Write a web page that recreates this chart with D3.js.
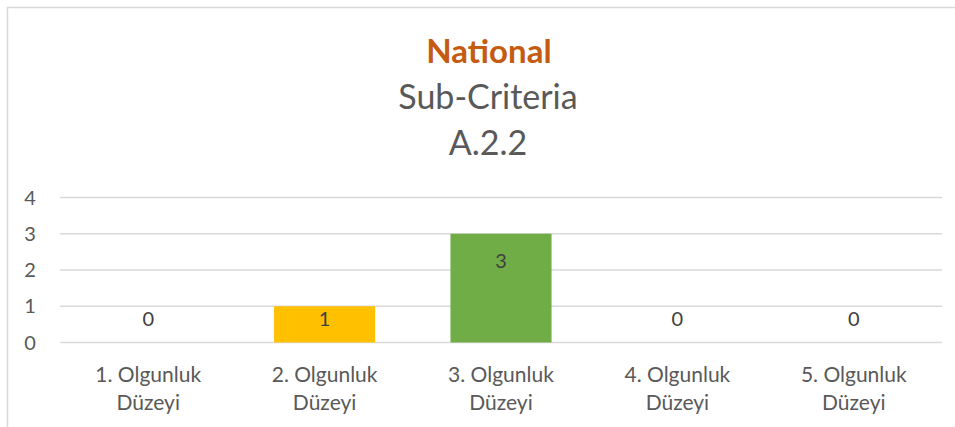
<!DOCTYPE html>
<html>
<head>
<meta charset="utf-8">
<script src="https://cdn.jsdelivr.net/npm/d3@7"></script>
<style>
  body { margin: 0; background: #fff; }
  text { font-family: Lato, "Open Sans", sans-serif; }
</style>
</head>
<body>
<div id="chart"></div>
<script>
const categories = [["1. Olgunluk", "Düzeyi"], ["2. Olgunluk", "Düzeyi"], ["3. Olgunluk", "Düzeyi"], ["4. Olgunluk", "Düzeyi"], ["5. Olgunluk", "Düzeyi"]];
const values = [0, 1, 3, 0, 0];
const barColors = ["#4472C4", "#FFC000", "#70AD47", "#5B9BD5", "#ED7D31"];
const yTicks = [0, 1, 2, 3, 4];
const titleLines = ["National", "Sub-Criteria", "A.2.2"];

window.addEventListener('load', drawChart);

function drawChart() {
  let width = 955, height = 427;
  let left = 60, right = 942, top = 197.5, bottom = 342.5;

  const svg = d3.select("#chart").append("svg")
      .attr("width", width)
      .attr("height", height);

  // chart frame (only top and left edges visible in the crop)
  svg.append("path")
      .attr("d", `M7.5,${height}V7.5H955`)
      .attr("fill", "none")
      .attr("stroke", "#d9d9d9")
      .attr("stroke-width", 1.5);

  let x = d3.scaleBand()
      .domain(d3.range(categories.length))
      .range([left, right])
      .paddingInner(0.427)
      .paddingOuter(0.2135);

  let y = d3.scaleLinear()
      .domain([0, 4])
      .range([bottom, top]);

  // gridlines
  svg.append("g")
      .selectAll("line")
      .data(yTicks)
      .join("line")
        .attr("x1", left)
        .attr("x2", right)
        .attr("y1", d => y(d))
        .attr("y2", d => y(d))
        .attr("stroke", "#d9d9d9")
        .attr("stroke-width", 1.3);

  // y tick labels
  svg.append("g")
      .selectAll("text")
      .data(yTicks)
      .join("text")
        .attr("x", 30)
        .attr("y", d => y(d))
        .attr("dy", "0.35em")
        .attr("text-anchor", "middle")
        .attr("font-size", 20)
        .attr("fill", "#595959")
        .text(d => d);

  // bars
  svg.append("g")
      .selectAll("rect")
      .data(values)
      .join("rect")
        .attr("x", (d, i) => x(i))
        .attr("y", d => y(d))
        .attr("width", x.bandwidth())
        .attr("height", d => y(0) - y(d))
        .attr("fill", (d, i) => barColors[i]);

  // value labels
  svg.append("g")
      .selectAll("text")
      .data(values)
      .join("text")
        .attr("x", (d, i) => x(i) + x.bandwidth() / 2)
        .attr("y", d => Math.min(y(d) + 27, y(0) - 24))
        .attr("dy", "0.35em")
        .attr("text-anchor", "middle")
        .attr("font-size", 20)
        .attr("fill", "#404040")
        .text(d => d);

  // category labels
  const cat = svg.append("g")
      .selectAll("text")
      .data(categories)
      .join("text")
        .attr("x", (d, i) => x(i) + x.bandwidth() / 2)
        .attr("y", 382)
        .attr("text-anchor", "middle")
        .attr("font-size", 21)
        .attr("fill", "#595959");

  cat.selectAll("tspan")
      .data(d => d)
      .join("tspan")
        .attr("x", function() { return this.parentNode.getAttribute("x"); })
        .attr("dy", (d, i) => i ? 28 : 0)
        .text(d => d);

  // title
  svg.append("text")
      .attr("x", 489)
      .attr("y", 63)
      .attr("text-anchor", "middle")
      .attr("font-size", 33)
      .attr("font-weight", "bold")
      .attr("fill", "#C55A11")
      .text(titleLines[0]);

  svg.append("g")
      .selectAll("text")
      .data(titleLines.slice(1))
      .join("text")
        .attr("x", 488)
        .attr("y", (d, i) => 109 + i * 46)
        .attr("text-anchor", "middle")
        .attr("font-size", 34)
        .attr("fill", "#595959")
        .text(d => d);
}
</script>
</body>
</html>
